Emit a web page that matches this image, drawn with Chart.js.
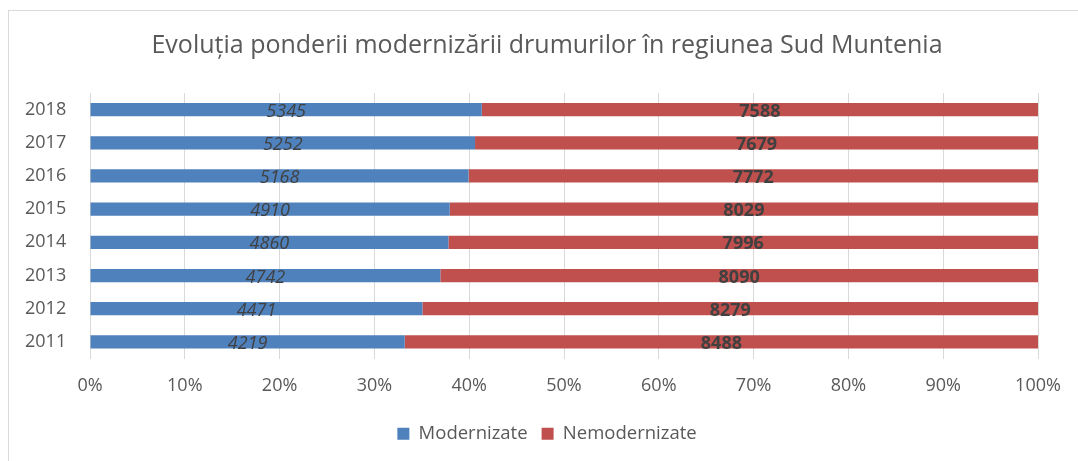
<!DOCTYPE html>
<html>
<head>
<meta charset="utf-8">
<script src="https://cdn.jsdelivr.net/npm/chart.js@4"></script>
<style>
  html, body { margin: 0; padding: 0; background: #fff; }
  #wrap { position: relative; width: 1078px; height: 461px; overflow: hidden; }
  #frame { position: absolute; left: 8px; top: 10px; width: 1100px; height: 500px; border: 1px solid #d9d9d9; box-sizing: border-box; }
  canvas { position: absolute; left: 0; top: 0; }
</style>
</head>
<body>
<div id="wrap">
  <div id="frame"></div>
  <canvas id="chart" width="1078" height="461"></canvas>
</div>
<script>
// Date
const years = ['2011', '2012', '2013', '2014', '2015', '2016', '2017', '2018'];
const modernizate = [4219, 4471, 4742, 4860, 4910, 5168, 5252, 5345];
const nemodernizate = [8488, 8279, 8090, 7996, 8029, 7772, 7679, 7588];
const tickLabels = ['0%', '10%', '20%', '30%', '40%', '50%', '60%', '70%', '80%', '90%', '100%'];

const fontFam = "'Open Sans', 'Noto Sans', sans-serif";

// procente pentru grafic 100% stivuit
const pct = (arr, i) => arr[i] / (modernizate[i] + nemodernizate[i]) * 100;
const modPct = years.map((_, i) => pct(modernizate, i));
const nemPct = years.map((_, i) => pct(nemodernizate, i));

// etichetele valorilor (valori brute, centrate pe bara)
const valueLabels = {
    id: 'valueLabels',
    afterDatasetsDraw(chart) {
        const ctx = chart.ctx;
        const raw = [modernizate, nemodernizate];
        ctx.save();
        ctx.fillStyle = '#404040';
        ctx.textAlign = 'center';
        ctx.textBaseline = 'middle';
        chart.data.datasets.forEach((ds, di) => {
            ctx.font = di === 0 ? 'italic 18px ' + fontFam : 'bold 18px ' + fontFam;
            chart.getDatasetMeta(di).data.forEach((bar, i) => {
                const cx = (bar.x + bar.base) / 2;
                ctx.fillText(raw[di][i], cx, bar.y + 2);
            });
        });
        ctx.restore();
    }
};

new Chart(document.getElementById('chart'), {
    type: 'bar',
    data: {
        labels: years,
        datasets: [
            { label: 'Modernizate', data: modPct, backgroundColor: '#4f81bd' },
            { label: 'Nemodernizate', data: nemPct, backgroundColor: '#c0504d' }
        ]
    },
    options: {
        indexAxis: 'y',
        responsive: false,
        animation: false,
        layout: { padding: { left: 56, right: 40, top: 4, bottom: 8 } },
        datasets: { bar: { categoryPercentage: 1, barPercentage: 0.4 } },
        plugins: {
            title: {
                display: true,
                text: 'Evoluția ponderii modernizării drumurilor în regiunea Sud Muntenia',
                color: '#595959',
                font: { family: fontFam, size: 25, weight: 'normal' },
                padding: { top: 27, bottom: 32 }
            },
            legend: {
                position: 'bottom',
                labels: {
                    color: '#595959',
                    font: { family: fontFam, size: 18.5 },
                    boxWidth: 12,
                    boxHeight: 12,
                    padding: 14
                }
            },
            tooltip: { enabled: false }
        },
        scales: {
            x: {
                stacked: true,
                min: 0,
                max: 100,
                afterFit: (scale) => { scale.height = 52; },
                ticks: {
                    stepSize: 10,
                    color: '#595959',
                    font: { family: fontFam, size: 18 },
                    padding: 17,
                    callback: (v, i) => tickLabels[i]
                },
                grid: { color: '#d9d9d9', drawTicks: false },
                border: { display: false }
            },
            y: {
                stacked: true,
                reverse: true,
                afterFit: (scale) => { scale.width = 34; },
                ticks: {
                    mirror: true,
                    color: '#595959',
                    font: { family: fontFam, size: 18 },
                    padding: -65
                },
                grid: { display: false },
                border: { display: false }
            }
        }
    },
    plugins: [valueLabels]
});
</script>
</body>
</html>
